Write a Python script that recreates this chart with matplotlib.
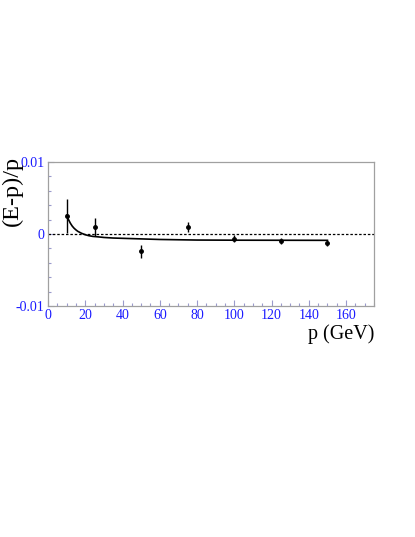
import numpy as np
import matplotlib
matplotlib.use("Agg")
import matplotlib.pyplot as plt
from matplotlib.ticker import MultipleLocator

# measured points
p = [10, 25, 50, 75, 100, 125, 150]
res = [0.0025, 0.00097, -0.0024, 0.00097, -0.00064, -0.00097, -0.00125]
res_err = [0.0024, 0.00125, 0.00093, 0.00076, 0.00046, 0.00046, 0.0004]

# fitted curve
p_fit = [10, 11, 12, 13, 14, 15, 16, 18, 20, 22, 24, 27, 30, 35, 40, 50,
         60, 70, 80, 100, 125, 150]
res_fit = [0.0026, 0.0020, 0.0015, 0.0011, 0.0008, 0.00057, 0.00037, 0.0001,
           -0.0001, -0.00024, -0.00033, -0.0004, -0.00048, -0.00056, -0.0006,
           -0.00068, -0.00076, -0.0008, -0.00084, -0.00086, -0.00087, -0.00088]

plt.rcParams['font.family'] = ['Liberation Serif', 'DejaVu Serif']

fig = plt.figure(figsize=(4.15, 5.37), dpi=100)
ax = fig.add_axes([48/415, 1-306/537, 326/415, 144/537])

ax.axhline(0, color='black', linestyle=(0, (2, 1.5)), linewidth=0.9)
ax.plot(p_fit, res_fit, color='black', linewidth=1.2)
ax.errorbar(p, res, yerr=res_err, fmt='o', color='black', markersize=2.5,
            elinewidth=1.0, capsize=0)

ax.set_xlim(0, 175)
ax.set_ylim(-0.01, 0.01)
ax.xaxis.set_major_locator(MultipleLocator(20))
ax.xaxis.set_minor_locator(MultipleLocator(5))
ax.yaxis.set_major_locator(MultipleLocator(0.01))
ax.yaxis.set_minor_locator(MultipleLocator(0.002))
ax.yaxis.set_major_formatter(plt.FuncFormatter(lambda v, _: '0' if abs(v) < 1e-9 else '%g' % v))

tick_col = '#9a9acc'
ax.tick_params(which='both', direction='in', colors=tick_col, labelcolor='#1a1aff',
               labelsize=10, top=False, right=False, pad=2.5)
ax.tick_params(which='major', length=4.5, width=0.8)
ax.tick_params(which='minor', length=2.5, width=0.8)
for s in ax.spines.values():
    s.set_color('#a0a0a0')
    s.set_linewidth(0.9)

fig.text(374/415, 1-334/537, 'p (GeV)', ha='right', va='center', fontsize=14.5)
fig.text(12/415, 1-156/537, '(E-p)/p', ha='center', va='top', rotation=90, fontsize=17.5)

fig.savefig('out.png', dpi=100)
